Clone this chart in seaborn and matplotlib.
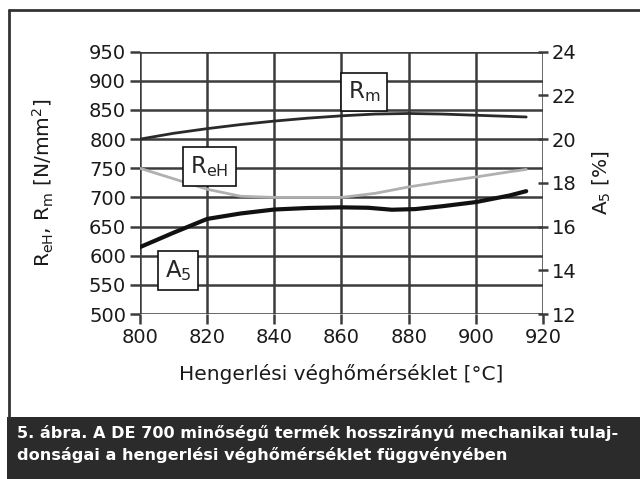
import numpy as np
import pandas as pd
import seaborn as sns
import matplotlib.pyplot as plt
from matplotlib.lines import Line2D
from matplotlib.patches import Rectangle

# values
temp = [800, 810, 820, 830, 840, 850, 860, 870, 880, 890, 900, 910, 915]
rm = [800, 810, 818, 825, 831, 836, 840, 843, 844, 843, 841, 839, 838]
reh = [750, 732, 714, 702, 700, 700, 700, 707, 718, 727, 735, 744, 748]
a5_temp = [800, 810, 820, 830, 840, 850, 860, 868, 875, 882, 890, 900, 910, 915]
a5 = [15.06, 15.72, 16.35, 16.6, 16.78, 16.85, 16.88, 16.86, 16.77, 16.8, 16.93, 17.12, 17.42, 17.62]

x_ticks = [800, 820, 840, 860, 880, 900, 920]
left_ticks = [500, 550, 600, 650, 700, 750, 800, 850, 900, 950]
right_ticks = [12, 14, 16, 18, 20, 22, 24]

df = pd.DataFrame({'T': temp, 'Rm': rm, 'ReH': reh})
df_a5 = pd.DataFrame({'T': a5_temp, 'A5': a5})

sns.set_theme(style='white')
plt.rcParams['font.family'] = ['DejaVu Sans']
plt.rcParams['mathtext.default'] = 'regular'

fig = plt.figure(figsize=(6.4, 4.79), dpi=100)
ax = fig.add_axes([140 / 640, 1 - 314 / 479, 403 / 640, 262.3 / 479])

grid_c = '#3c3c3c'
ax.set_xlim(800, 920)
ax.set_ylim(500, 950)
ax.set_xticks(x_ticks)
ax.set_yticks(left_ticks)
ax.grid(True, color=grid_c, lw=1.8)
for s in ax.spines.values():
    s.set_visible(False)
ax.tick_params(axis='both', which='major', direction='out', length=7, width=1.8,
               color=grid_c, labelsize=14, labelcolor='#1a1a1a', pad=3,
               left=True, bottom=True)

sns.lineplot(data=df, x='T', y='Rm', ax=ax, color='#2a2a2a', lw=2.0)
sns.lineplot(data=df, x='T', y='ReH', ax=ax, color='#b0b0b0', lw=2.0)

ax.set_xlabel('Hengerlési véghőmérséklet [°C]', fontsize=14.5, color='#1a1a1a', labelpad=12)
ax.set_ylabel('R$_{eH}$, R$_{m}$ [N/mm$^{2}$]', fontsize=14.5, color='#1a1a1a', labelpad=24)

ax2 = ax.twinx()
ax2.set_ylim(12, 24)
ax2.set_yticks(right_ticks)
ax2.grid(False)
for s in ax2.spines.values():
    s.set_visible(False)
sns.lineplot(data=df_a5, x='T', y='A5', ax=ax2, color='#111111', lw=3.0)
ax2.tick_params(axis='y', direction='inout', length=7, width=1.8, color=grid_c,
                labelsize=14, labelcolor='#1a1a1a', pad=3, right=True)
ax2.set_ylabel('A$_5$ [%]', fontsize=14.5, color='#1a1a1a', labelpad=10)

box = dict(boxstyle='square,pad=0.3', fc='white', ec='#111111', lw=1.2)
ax.text(866.7, 881, 'R$_m$', fontsize=16.5, ha='center', va='center', bbox=box, zorder=5)
ax.text(820.7, 753, 'R$_{eH}$', fontsize=16.5, ha='center', va='center', bbox=box, zorder=5)
ax2.text(811.3, 14.0, 'A$_5$', fontsize=16.5, ha='center', va='center', bbox=box, zorder=5)

# frame and caption band
fig.add_artist(Line2D([8.5 / 640, 1], [1 - 9.5 / 479, 1 - 9.5 / 479],
                      transform=fig.transFigure, color='#333333', lw=2))
fig.add_artist(Line2D([8.5 / 640, 8.5 / 640], [1 - 9.5 / 479, 1 - 417 / 479],
                      transform=fig.transFigure, color='#333333', lw=2))
fig.add_artist(Rectangle((7 / 640, 0), 1, 1 - 417 / 479, transform=fig.transFigure,
                         fc='#2b2b2b', ec='none'))
caption = ('5. ábra. A DE 700 minőségű termék hosszirányú mechanikai tulaj-\n'
           'donságai a hengerlési véghőmérséklet függvényében')
fig.text(17 / 640, 1 - 444 / 479, caption, color='white', fontsize=11.6, fontweight='bold',
         va='center', ha='left', linespacing=1.45)

fig.savefig('out.png', dpi=100)
